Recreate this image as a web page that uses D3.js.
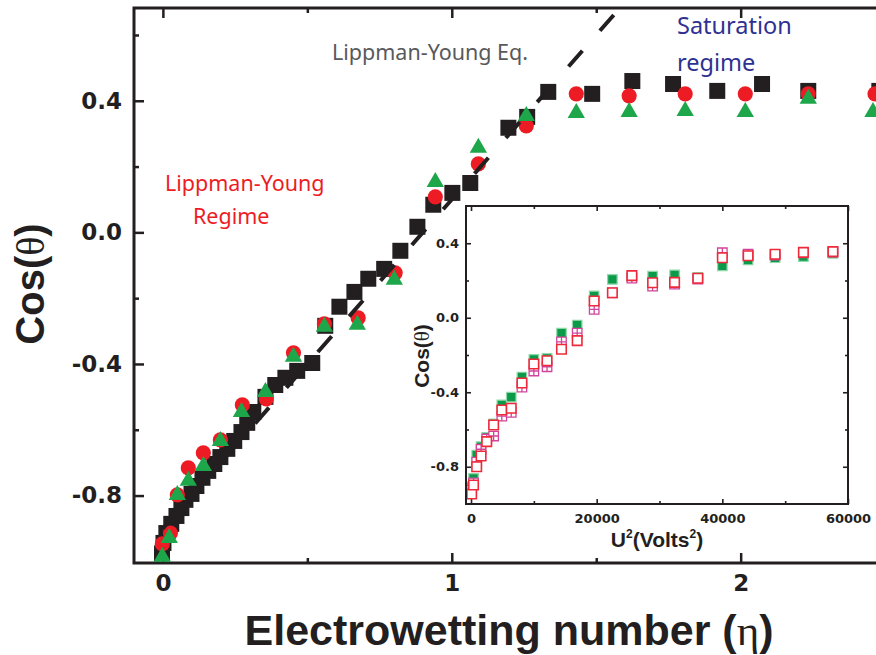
<!DOCTYPE html>
<html><head><meta charset="utf-8">
<script src="https://cdn.jsdelivr.net/npm/d3@7"></script>
<style>html,body{margin:0;padding:0;background:#fff;} svg{display:block;}</style>
</head><body>
<svg id="chart" width="876" height="655"></svg>
<script>
// ---- main panel: cos(theta) vs electrowetting number ----
const etaBlack = [-0.003,0.002,0.012,0.029,0.047,0.064,0.078,0.099,0.116,0.137,0.157,0.178,0.199,0.223,0.247,0.272,0.292,0.313,0.355,0.389,0.424,0.465,0.517,0.562,0.611,0.663,0.711,0.766,0.822,0.881,0.936,1.002,1.064,1.196,1.261,1.334,1.486,1.625,1.766,1.919,2.074,2.234,2.48];
const cosBlack = [-0.976,-0.944,-0.914,-0.886,-0.862,-0.838,-0.813,-0.795,-0.771,-0.746,-0.725,-0.704,-0.683,-0.658,-0.634,-0.607,-0.579,-0.546,-0.500,-0.464,-0.442,-0.421,-0.397,-0.284,-0.226,-0.181,-0.141,-0.111,-0.056,0.017,0.084,0.120,0.150,0.318,0.351,0.427,0.421,0.460,0.451,0.430,0.451,0.430,0.43];
const etaRed = [-0.002,0.026,0.050,0.088,0.140,0.199,0.275,0.358,0.452,0.559,0.676,0.804,0.943,1.092,1.258,1.431,1.614,1.808,2.016,2.234,2.465];
const cosRed = [-0.947,-0.914,-0.798,-0.716,-0.670,-0.631,-0.524,-0.506,-0.366,-0.278,-0.260,-0.123,0.108,0.208,0.324,0.421,0.415,0.421,0.421,0.421,0.421];
const etaGreen = [-0.002,0.022,0.050,0.088,0.140,0.199,0.272,0.355,0.452,0.559,0.673,0.801,0.943,1.092,1.258,1.431,1.614,1.808,2.016,2.234,2.458];
const cosGreen = [-0.986,-0.929,-0.798,-0.755,-0.710,-0.634,-0.546,-0.485,-0.378,-0.287,-0.281,-0.144,0.153,0.257,0.354,0.363,0.366,0.369,0.366,0.406,0.366];
// Lippman-Young equation: cos(theta) = cos(theta0) + eta
const lyEta = [0, 1.6];
const lyCos = [-0.90, 0.70];

const mainXTicks = [0, 1, 2];
const mainXMinor = [0.5, 1.5, 2.5];
const mainYTicks = [-0.8, -0.4, 0.0, 0.4];
const mainYMinor = [-0.6, -0.2, 0.2, 0.6];

// ---- inset: cos(theta) vs U^2 ----
const voltSq = [100,400,900,1600,2500,3600,4900,6400,8100,10000,12100,14400,16900,19600,22500,25600,28900,32400,36100,40000,44100,48400,52900,57600];
const insetGreen = [-0.907,-0.862,-0.737,-0.692,-0.642,-0.570,-0.468,-0.426,-0.318,-0.223,-0.218,-0.083,-0.039,0.117,0.206,0.219,0.224,0.230,0.217,0.278,0.310,0.322,0.328,0.346];
const insetMagenta = [-0.925,-0.887,-0.775,-0.706,-0.651,-0.635,-0.528,-0.508,-0.372,-0.286,-0.263,-0.129,-0.083,0.045,0.133,0.213,0.170,0.181,0.208,0.349,0.341,0.337,0.348,0.353];
const insetRed = [-0.946,-0.898,-0.800,-0.742,-0.665,-0.576,-0.495,-0.486,-0.350,-0.248,-0.231,-0.169,-0.123,0.090,0.134,0.226,0.188,0.190,0.212,0.322,0.333,0.341,0.351,0.355];

const insetXTicks = [0, 20000, 40000, 60000];
const insetXMinor = [10000, 30000, 50000];
const insetYTicks = [-0.8, -0.4, 0.0, 0.4];
const insetYMinor = [-0.6, -0.2, 0.2];

const INK = "#231f20";
const svg = d3.select("#chart");
const fmt1 = d => d.toFixed(1);

// ---------------- main panel ----------------
const M = {left: 134, right: 914, top: 8, bottom: 563};
const x = d3.scaleLinear().domain([-0.1, 2.6]).range([M.left, M.right]);
const y = d3.scaleLinear().domain([-1.005, 0.682]).range([M.bottom, M.top]);

svg.append("defs").append("clipPath").attr("id", "plotClip")
  .append("rect").attr("x", M.left).attr("y", M.top)
  .attr("width", M.right - M.left).attr("height", M.bottom - M.top);

function styleAxis(g) {
  g.select(".domain").remove();
  g.selectAll(".tick line").attr("stroke", INK).attr("stroke-width", 2.5);
  g.selectAll(".tick text").attr("font-family", "DejaVu Sans").attr("font-weight", "bold")
    .attr("font-size", 23).attr("fill", INK);
}

// bottom / top (major + minor, inward)
svg.append("g").attr("transform", `translate(0,${M.bottom})`)
  .call(d3.axisBottom(x).tickValues(mainXTicks).tickSize(-10).tickPadding(12).tickFormat(d3.format("d")))
  .call(styleAxis);
svg.append("g").attr("transform", `translate(0,${M.bottom})`)
  .call(d3.axisBottom(x).tickValues(mainXMinor).tickSize(-5).tickFormat(""))
  .call(styleAxis);
svg.append("g").attr("transform", `translate(0,${M.top})`)
  .call(d3.axisTop(x).tickValues(mainXTicks).tickSize(-10).tickFormat(""))
  .call(styleAxis);
svg.append("g").attr("transform", `translate(0,${M.top})`)
  .call(d3.axisTop(x).tickValues(mainXMinor).tickSize(-5).tickFormat(""))
  .call(styleAxis);
// left
svg.append("g").attr("transform", `translate(${M.left},0)`)
  .call(d3.axisLeft(y).tickValues(mainYTicks).tickSize(-10).tickPadding(12).tickFormat(fmt1))
  .call(styleAxis);
svg.append("g").attr("transform", `translate(${M.left},0)`)
  .call(d3.axisLeft(y).tickValues(mainYMinor).tickSize(-5).tickFormat(""))
  .call(styleAxis);

svg.append("rect").attr("x", M.left).attr("y", M.top)
  .attr("width", M.right - M.left).attr("height", M.bottom - M.top)
  .attr("fill", "none").attr("stroke", INK).attr("stroke-width", 3);

// markers
const sq = d3.symbol(d3.symbolSquare, 256)();
const circ = d3.symbol(d3.symbolCircle, Math.PI * 7.6 * 7.6)();
const tri = d3.symbol(d3.symbolTriangle, 130)();

svg.append("g").selectAll("path").data(d3.zip(etaBlack, cosBlack)).join("path")
  .attr("d", sq).attr("transform", d => `translate(${x(d[0])},${y(d[1])})`).attr("fill", INK);
svg.append("g").selectAll("path").data(d3.zip(etaRed, cosRed)).join("path")
  .attr("d", circ).attr("transform", d => `translate(${x(d[0])},${y(d[1])})`).attr("fill", "#ed1c24");
svg.append("g").selectAll("path").data(d3.zip(etaGreen, cosGreen)).join("path")
  .attr("d", tri).attr("transform", d => `translate(${x(d[0])},${y(d[1])})`).attr("fill", "#1ea64b");

// Lippman-Young dashed line
svg.append("path").attr("clip-path", "url(#plotClip)")
  .datum(d3.zip(lyEta, lyCos))
  .attr("d", d3.line().x(d => x(d[0])).y(d => y(d[1])))
  .attr("fill", "none").attr("stroke", INK).attr("stroke-width", 4)
  .attr("stroke-dasharray", "21,26.5").attr("stroke-dashoffset", 2.7);

// annotations
svg.append("text").attr("x", 332).attr("y", 60).attr("font-family", "Noto Sans")
  .attr("font-size", 21.5).attr("fill", "#58595b").text("Lippman-Young Eq.");
const sat = svg.append("text").attr("font-family", "Noto Sans").attr("font-size", 23.5).attr("fill", "#2e3192");
sat.append("tspan").attr("x", 677).attr("y", 34).text("Saturation");
sat.append("tspan").attr("x", 677).attr("y", 71).text("regime");
const lyr = svg.append("text").attr("font-family", "Noto Sans").attr("font-size", 21.5).attr("fill", "#ed1c24");
lyr.append("tspan").attr("x", 165).attr("y", 191).text("Lippman-Young");
lyr.append("tspan").attr("x", 193).attr("y", 224).text("Regime");

// axis titles
const yt = svg.append("text").attr("transform", "translate(44,284) rotate(-90)")
  .attr("text-anchor", "middle").attr("font-family", "Liberation Sans").attr("font-weight", "bold")
  .attr("font-size", 40).attr("fill", INK);
yt.append("tspan").text("Cos(");
yt.append("tspan").attr("font-family", "Liberation Serif").attr("font-weight", "normal").text("θ");
yt.append("tspan").text(")");

const xt = svg.append("text").attr("x", 509).attr("y", 645)
  .attr("text-anchor", "middle").attr("font-family", "Liberation Sans").attr("font-weight", "bold")
  .attr("font-size", 43).attr("fill", INK);
xt.append("tspan").text("Electrowetting number (");
xt.append("tspan").attr("font-family", "Liberation Serif").attr("font-weight", "normal").text("η");
xt.append("tspan").text(")");

// ---------------- inset ----------------
const I = {left: 466, right: 848, top: 206, bottom: 504};
const ix = d3.scaleLinear().domain([-800, 60000]).range([I.left, I.right]);
const iy = d3.scaleLinear().domain([-1.0, 0.6]).range([I.bottom, I.top]);

svg.append("rect").attr("x", I.left).attr("y", I.top)
  .attr("width", I.right - I.left).attr("height", I.bottom - I.top).attr("fill", "#fff");

function styleInset(g) {
  g.select(".domain").remove();
  g.selectAll(".tick line").attr("stroke", INK).attr("stroke-width", 1.6);
  g.selectAll(".tick text").attr("font-family", "DejaVu Sans").attr("font-weight", "bold")
    .attr("font-size", 13).attr("fill", INK);
}
svg.append("g").attr("transform", `translate(0,${I.bottom})`)
  .call(d3.axisBottom(ix).tickValues(insetXTicks).tickSize(-5).tickPadding(10).tickFormat(d3.format("d")))
  .call(styleInset);
svg.append("g").attr("transform", `translate(0,${I.bottom})`)
  .call(d3.axisBottom(ix).tickValues(insetXMinor).tickSize(-3).tickFormat("")).call(styleInset);
svg.append("g").attr("transform", `translate(0,${I.top})`)
  .call(d3.axisTop(ix).tickValues(insetXTicks).tickSize(-5).tickFormat("")).call(styleInset);
svg.append("g").attr("transform", `translate(0,${I.top})`)
  .call(d3.axisTop(ix).tickValues(insetXMinor).tickSize(-3).tickFormat("")).call(styleInset);
svg.append("g").attr("transform", `translate(${I.left},0)`)
  .call(d3.axisLeft(iy).tickValues(insetYTicks).tickSize(-5).tickPadding(7).tickFormat(fmt1))
  .call(styleInset);
svg.append("g").attr("transform", `translate(${I.left},0)`)
  .call(d3.axisLeft(iy).tickValues(insetYMinor).tickSize(-3).tickFormat("")).call(styleInset);
svg.append("g").attr("transform", `translate(${I.right},0)`)
  .call(d3.axisRight(iy).tickValues(insetYTicks).tickSize(-5).tickFormat("")).call(styleInset);
svg.append("g").attr("transform", `translate(${I.right},0)`)
  .call(d3.axisRight(iy).tickValues(insetYMinor).tickSize(-3).tickFormat("")).call(styleInset);

// square with a cross inside
const crossSquare = {
  draw(ctx, size) {
    const s = Math.sqrt(size) / 2;
    ctx.moveTo(-s, -s); ctx.lineTo(s, -s); ctx.lineTo(s, s); ctx.lineTo(-s, s); ctx.closePath();
    ctx.moveTo(0, -s); ctx.lineTo(0, s);
    ctx.moveTo(-s, 0); ctx.lineTo(s, 0);
  }
};
const isq = d3.symbol(d3.symbolSquare, 90)();
const icr = d3.symbol(crossSquare, 90)();

svg.append("g").selectAll("path").data(d3.zip(voltSq, insetGreen)).join("path")
  .attr("d", isq).attr("transform", d => `translate(${ix(d[0])},${iy(d[1])})`)
  .attr("fill", "#0a9a4a").attr("stroke", "#8fd8a8").attr("stroke-width", 1.2);
svg.append("g").selectAll("path").data(d3.zip(voltSq, insetMagenta)).join("path")
  .attr("d", icr).attr("transform", d => `translate(${ix(d[0])},${iy(d[1])})`)
  .attr("fill", "#fff").attr("stroke", "#d0449c").attr("stroke-width", 1.3);
svg.append("g").selectAll("path").data(d3.zip(voltSq, insetRed)).join("path")
  .attr("d", isq).attr("transform", d => `translate(${ix(d[0])},${iy(d[1])})`)
  .attr("fill", "#fff").attr("stroke", "#ee2a3a").attr("stroke-width", 1.6);

svg.append("rect").attr("x", I.left).attr("y", I.top)
  .attr("width", I.right - I.left).attr("height", I.bottom - I.top)
  .attr("fill", "none").attr("stroke", INK).attr("stroke-width", 2);

const iyt = svg.append("text").attr("transform", "translate(429,356) rotate(-90)")
  .attr("text-anchor", "middle").attr("font-family", "Liberation Sans").attr("font-weight", "bold")
  .attr("font-size", 21).attr("fill", INK);
iyt.append("tspan").text("Cos(");
iyt.append("tspan").attr("font-family", "Liberation Serif").attr("font-weight", "normal").text("θ");
iyt.append("tspan").text(")");

const ixt = svg.append("text").attr("x", 657).attr("y", 547)
  .attr("text-anchor", "middle").attr("font-family", "Liberation Sans").attr("font-weight", "bold")
  .attr("font-size", 21).attr("fill", INK);
ixt.append("tspan").text("U");
ixt.append("tspan").attr("font-size", 12).attr("dy", -9).text("2");
ixt.append("tspan").attr("dy", 9).text("(Volts");
ixt.append("tspan").attr("font-size", 12).attr("dy", -9).text("2");
ixt.append("tspan").attr("dy", 9).text(")");
</script>
</body></html>
